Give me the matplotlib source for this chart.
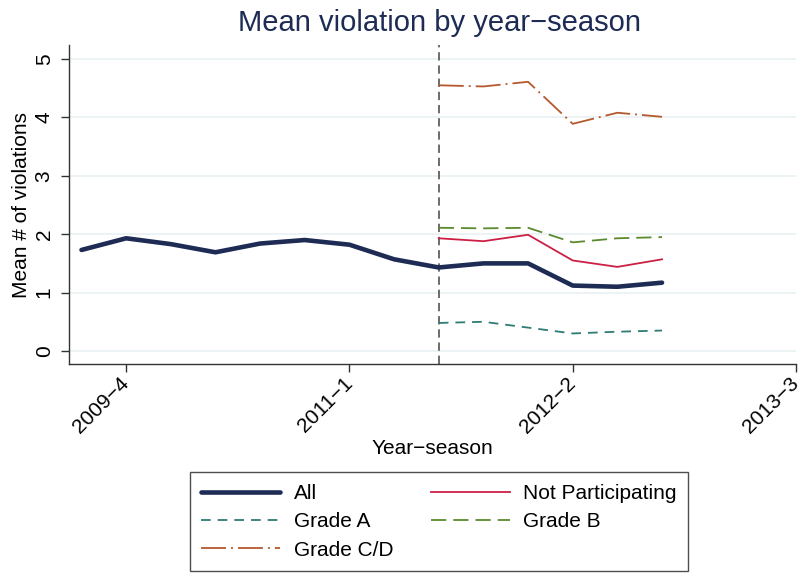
import numpy as np
import matplotlib
matplotlib.use("Agg")
import matplotlib.pyplot as plt

plt.rcParams['font.family'] = ['Liberation Sans', 'DejaVu Sans']
plt.rcParams['lines.scale_dashes'] = False

# quarters from 2009-3 on, index 0 = 2009-3
periods = ["2009-3", "2009-4", "2010-1", "2010-2", "2010-3", "2010-4", "2011-1",
           "2011-2", "2011-3", "2011-4", "2012-1", "2012-2", "2012-3", "2012-4"]
tick_pos = [1, 6, 11, 16]
tick_lbl = ["2009\u22124", "2011\u22121", "2012\u22122", "2013\u22123"]
policy_start = 8  # 2011-3

all_vals = [1.73, 1.93, 1.83, 1.69, 1.84, 1.90, 1.82, 1.57, 1.43, 1.50, 1.50, 1.12, 1.10, 1.17]
# grade series only from 2011-3
notpart = [1.93, 1.88, 1.99, 1.55, 1.44, 1.57]
grade_a = [0.48, 0.50, 0.40, 0.30, 0.33, 0.35]
grade_b = [2.11, 2.10, 2.11, 1.86, 1.93, 1.95]
grade_cd = [4.55, 4.53, 4.61, 3.89, 4.08, 4.01]

x_all = np.arange(len(all_vals))
x_grd = np.arange(policy_start, policy_start + len(grade_a))

fig = plt.figure(figsize=(7.99, 5.73), dpi=100)
ax = fig.add_axes([69/799, 1-364/573, (796-69)/799, (364-45)/573])

for yv in range(6):
    ax.axhline(yv, color='#eaf2f3', lw=1.3, zorder=0)
ax.axvline(policy_start, color='#444444', lw=1.1, linestyle=(0, (6, 3.5)), zorder=1)

h_all, = ax.plot(x_all, all_vals, color='#1d2b55', lw=3.3, label='All', solid_capstyle='round')
h_np, = ax.plot(x_grd, notpart, color='#cc1f44', lw=1.3, label='Not Participating')
h_a, = ax.plot(x_grd, grade_a, color='#2f7b75', lw=1.3, linestyle=(0, (7, 5)), label='Grade A')
h_b, = ax.plot(x_grd, grade_b, color='#5b8a2f', lw=1.3, linestyle=(0, (11, 5)), label='Grade B')
h_cd, = ax.plot(x_grd, grade_cd, color='#b5582e', lw=1.3, linestyle=(0, (18, 3.6, 1.4, 3.6)), label='Grade C/D')

ax.set_xlim(-0.28, 16.0)
ax.set_ylim(-0.223, 5.24)
ax.set_xticks(tick_pos)
ax.set_xticklabels(tick_lbl, rotation=45, ha='right', va='center', rotation_mode='anchor')
ax.set_yticks(range(6))
ax.set_yticklabels([str(v) for v in range(6)], rotation=90, va='center')
ax.tick_params(axis='both', labelsize=15, length=6, width=1, color='#333333')
ax.tick_params(axis='x', pad=6)
ax.tick_params(axis='y', pad=5)

for s in ['top', 'right']:
    ax.spines[s].set_visible(False)
for s in ['left', 'bottom']:
    ax.spines[s].set_color('#333333')
    ax.spines[s].set_linewidth(1)

ax.set_xlabel('Year\u2212season', fontsize=15, labelpad=1)
ax.set_ylabel('Mean # of violations', fontsize=15, labelpad=3)
fig.suptitle('Mean violation by year\u2212season', fontsize=21, color='#1d2b55', x=439/799, y=0.985)

# order so that the 2-column legend reads row by row
leg = fig.legend([h_all, h_a, h_cd, h_np, h_b],
                 ['All', 'Grade A', 'Grade C/D', 'Not Participating', 'Grade B'],
                 ncol=2, loc='lower center', bbox_to_anchor=(439/799, 2/573),
                 fontsize=15, frameon=True, fancybox=False, handlelength=3.8,
                 handletextpad=0.65, columnspacing=1.8, labelspacing=0.45,
                 borderpad=0.55, borderaxespad=0)
leg.get_frame().set_edgecolor('#222222')
leg.get_frame().set_linewidth(1)

fig.savefig('out.png', dpi=100)
